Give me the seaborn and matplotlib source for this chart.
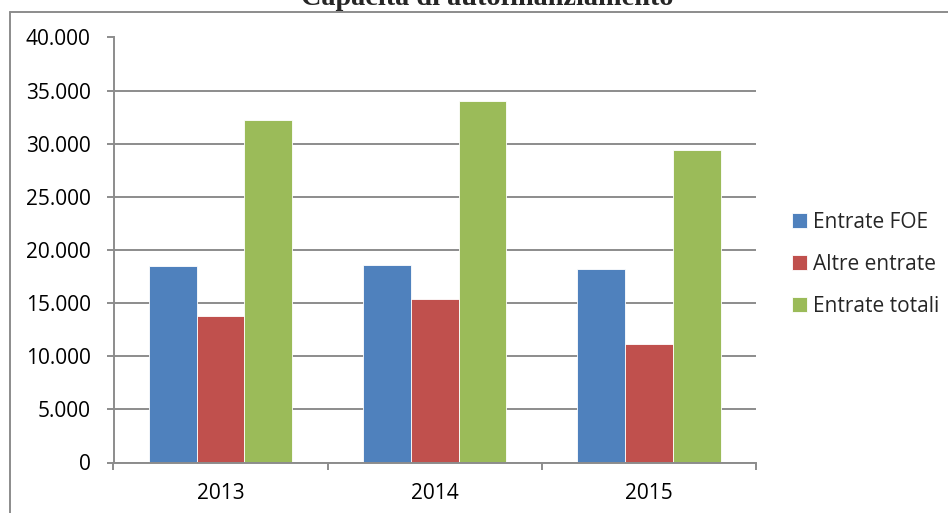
import numpy as np
import pandas as pd
import matplotlib
matplotlib.use("Agg")
import matplotlib.pyplot as plt
import matplotlib.ticker as mticker
from matplotlib.lines import Line2D
import seaborn as sns

YEARS = ["2013", "2014", "2015"]
SERIES = ["Entrate FOE", "Altre entrate", "Entrate totali"]
ENTRATE_FOE = [18450, 18620, 18250]
ALTRE_ENTRATE = [13750, 15350, 11150]
ENTRATE_TOTALI = [32250, 34000, 29450]
COLORS = ["#4F81BD", "#C0504D", "#9BBB59"]
TITLE = "Capacità di autofinanziamento"

sns.set_theme(style="white")
plt.rcParams["font.family"] = ["Open Sans", "DejaVu Sans"]

df = pd.DataFrame({
    "anno": YEARS * 3,
    "serie": [s for s in SERIES for _ in YEARS],
    "valore": ENTRATE_FOE + ALTRE_ENTRATE + ENTRATE_TOTALI,
})

W, H = 948, 513
fig = plt.figure(figsize=(W / 100, H / 100), dpi=100)
ax = fig.add_axes([113.5 / W, 1 - 462.5 / H, (756 - 113.5) / W, (462.5 - 37.5) / H])

sns.barplot(data=df, x="anno", y="valore", hue="serie", hue_order=SERIES,
            palette=COLORS, saturation=1, width=0.67, ax=ax,
            edgecolor="#ffffff", linewidth=0.6, legend=True)

ax.set_xlim(-0.5, 2.5)
ax.set_ylim(0, 40000)
ax.yaxis.set_major_locator(mticker.MultipleLocator(5000))
ax.yaxis.set_major_formatter(mticker.FuncFormatter(lambda v, p: f"{int(v):,}".replace(",", ".")))
ax.set_xlabel("")
ax.set_ylabel("")

grid_c = "#8c8c8c"
ax.grid(axis="y", color=grid_c, linewidth=1.4)
ax.set_axisbelow(True)
for s in ["top", "right"]:
    ax.spines[s].set_visible(False)
ax.spines["left"].set_color(grid_c)
ax.spines["bottom"].set_color(grid_c)
ax.spines["left"].set_linewidth(1.4)
ax.spines["bottom"].set_linewidth(1.4)

ax.tick_params(axis="y", length=5, width=1.4, color=grid_c, pad=11.5, labelsize=15, labelcolor="black", left=True)
ax.tick_params(axis="x", which="major", length=0, pad=15, labelsize=15, labelcolor="black")
ax.set_xticks([-0.5, 0.5, 1.5, 2.5], minor=True)
ax.tick_params(axis="x", which="minor", length=5, width=1.4, color=grid_c, bottom=True)

handles, labels = ax.get_legend_handles_labels()
ax.legend(handles, labels, loc="upper left", bbox_to_anchor=(792 / W, 1 - 212 / H),
          bbox_transform=fig.transFigure, frameon=False, fontsize=15,
          handlelength=0.7, handleheight=0.7, handletextpad=0.3,
          labelspacing=1.0, borderpad=0, borderaxespad=0)

fig.text(487.5 / W, 1 - 4.7 / H, TITLE, ha="center", va="baseline",
         fontsize=20.3, fontweight="bold", family=["Liberation Serif", "DejaVu Serif"])

# cornice del grafico
fig.add_artist(Line2D([10 / W, 10 / W], [1 - 11.7 / H, 0], transform=fig.transFigure,
                      color=grid_c, linewidth=1.4))
fig.add_artist(Line2D([10 / W, 1], [1 - 11.7 / H, 1 - 11.7 / H], transform=fig.transFigure,
                      color=grid_c, linewidth=1.4))

fig.savefig("out.png", dpi=100, facecolor="white")
